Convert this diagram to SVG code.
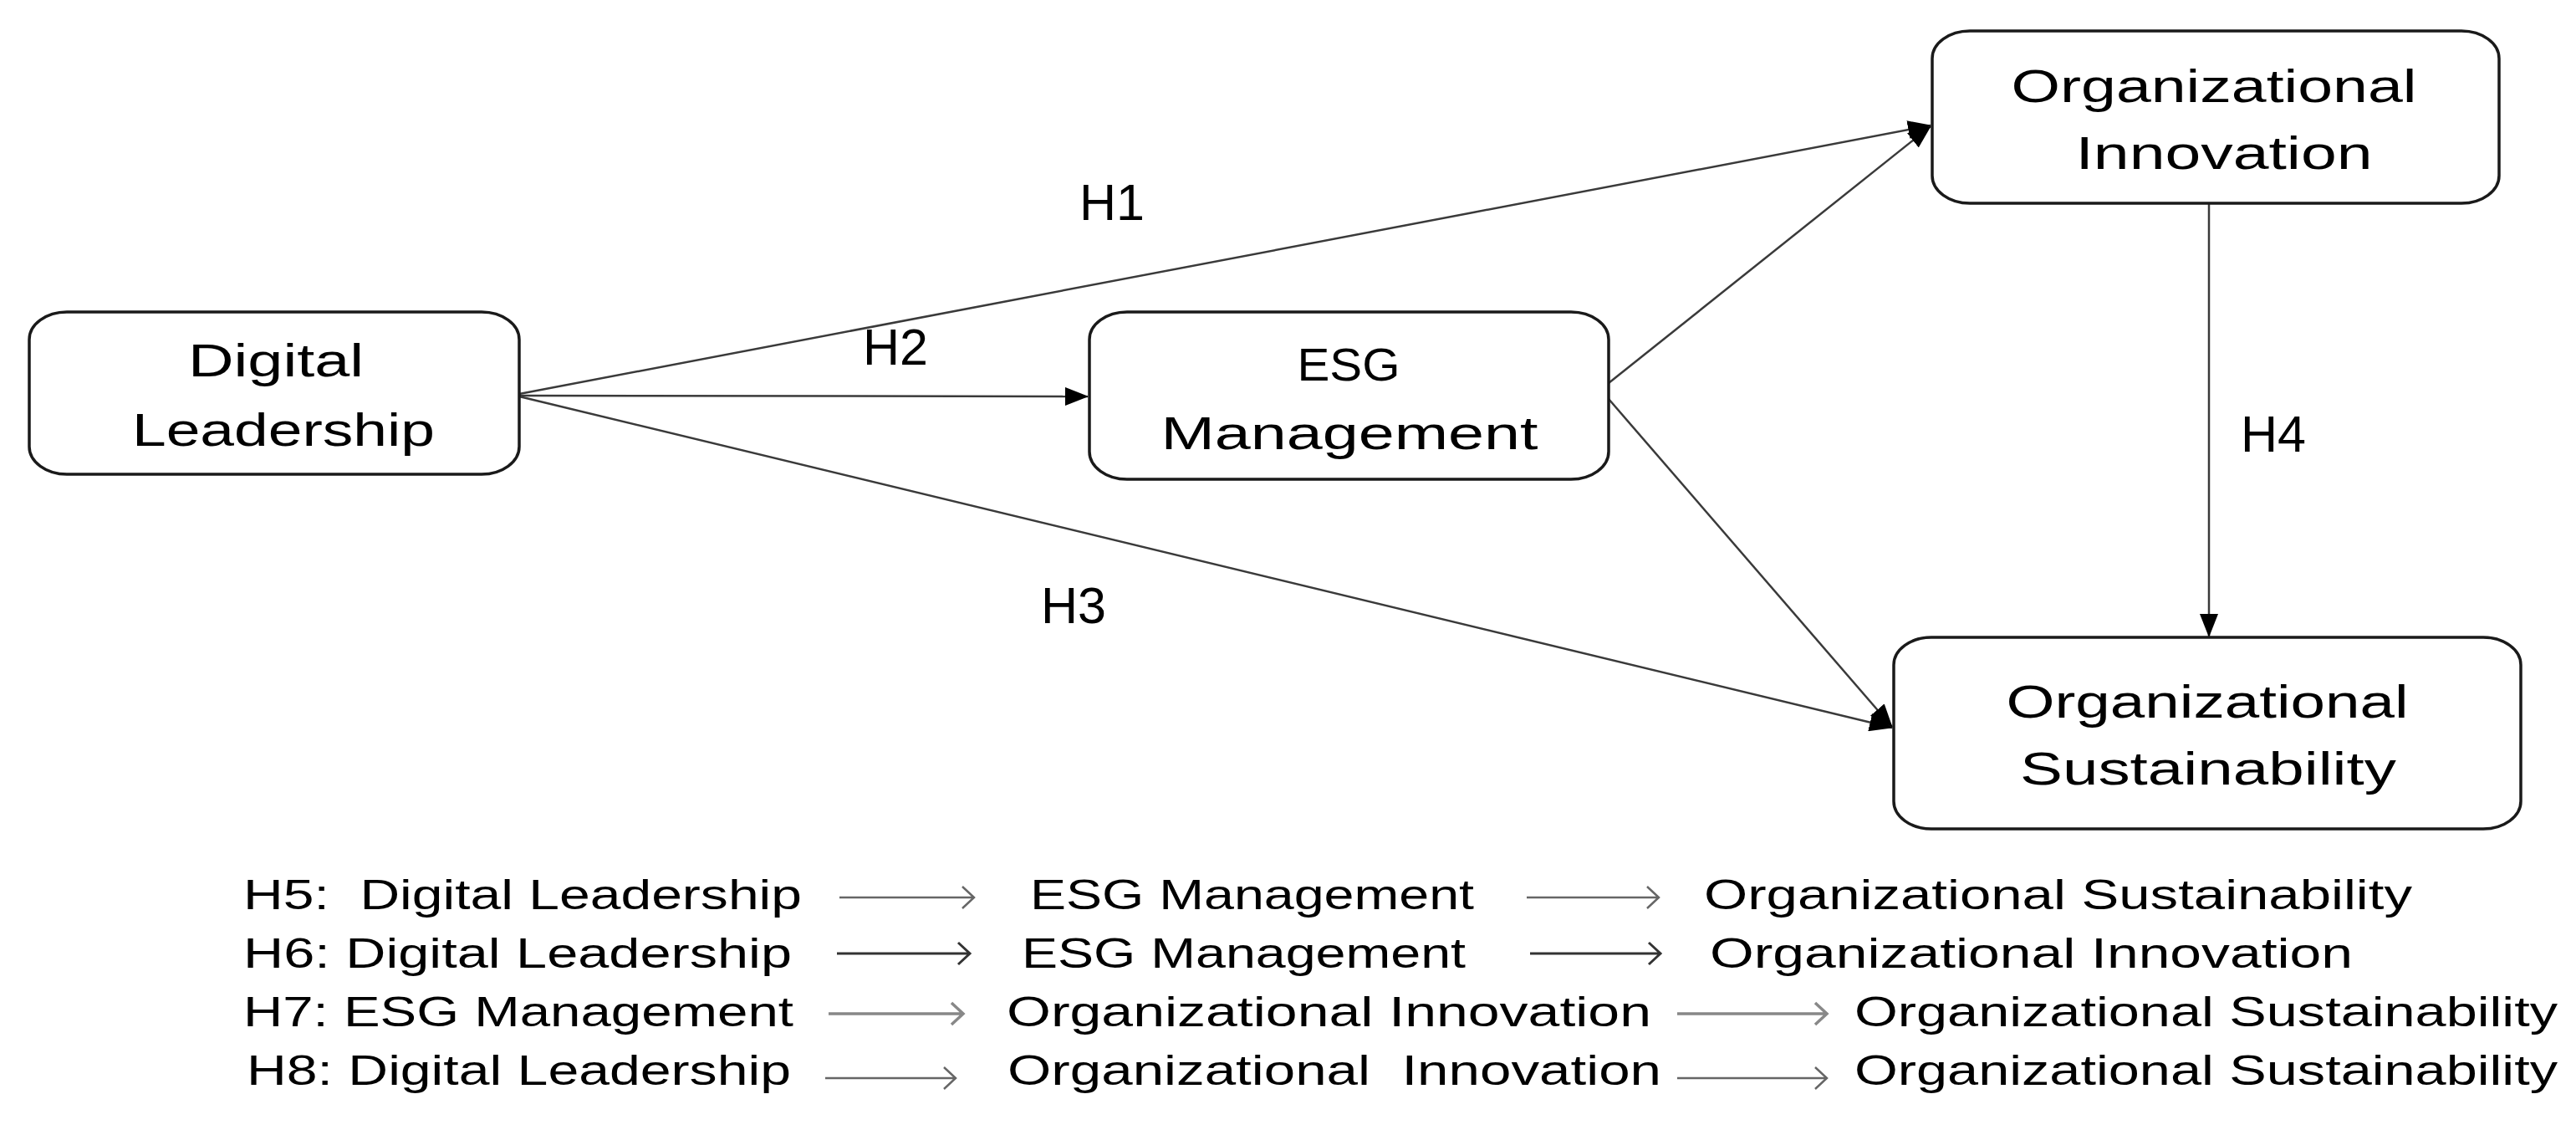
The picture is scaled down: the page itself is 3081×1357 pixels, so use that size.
<svg xmlns="http://www.w3.org/2000/svg" width="3081" height="1357" viewBox="0 0 3081 1357">
<defs>
<style>
.box{fill:#fff;stroke:#1a1a1a;stroke-width:3.5}
.lbl{font-family:"Liberation Sans",Arial,sans-serif;font-size:56px;fill:#000;text-anchor:middle}
.h{font-family:"Liberation Sans",Arial,sans-serif;font-size:61px;fill:#000}
.leg{font-family:"Liberation Sans",Arial,sans-serif;font-size:50px;fill:#000;white-space:pre}
.con{stroke:#3a3a3a;stroke-width:2.5;fill:none}
.la{stroke:#666;stroke-width:2.5;fill:none}
</style>
<marker id="ah" markerUnits="userSpaceOnUse" markerWidth="28" markerHeight="22" refX="27" refY="11" orient="auto">
<path d="M0,0 L28,11 L0,22 z" fill="#000"/>
</marker>
</defs>
<rect width="3081" height="1357" fill="#fff"/>

<g id="connectors">
<line class="con" x1="621" y1="471" x2="2309" y2="150" marker-end="url(#ah)"/>
<line class="con" x1="621" y1="473" x2="1301" y2="474" marker-end="url(#ah)"/>
<line class="con" x1="621" y1="474" x2="2263" y2="870" marker-end="url(#ah)"/>
<line class="con" x1="1924" y1="458" x2="2309" y2="151" marker-end="url(#ah)"/>
<line class="con" x1="1924" y1="477" x2="2263" y2="869" marker-end="url(#ah)"/>
<line class="con" x1="2642" y1="244" x2="2642" y2="761" marker-end="url(#ah)"/>
<text class="h" x="1291" y="263">H1</text>
<text class="h" x="1032" y="436">H2</text>
<text class="h" x="1245" y="745">H3</text>
<text class="h" x="2680" y="540">H4</text>
</g>

<g id="digital-leadership">
<rect class="box" x="35" y="373" width="586" height="194" rx="45" ry="33"/>
<text class="lbl" x="330" y="450" textLength="210" lengthAdjust="spacingAndGlyphs">Digital</text>
<text class="lbl" x="339" y="533" textLength="362" lengthAdjust="spacingAndGlyphs">Leadership</text>
</g>

<g id="esg-management">
<rect class="box" x="1303" y="373" width="621" height="200" rx="45" ry="33"/>
<text class="lbl" x="1613" y="455" textLength="123" lengthAdjust="spacingAndGlyphs">ESG</text>
<text class="lbl" x="1614" y="537" textLength="451" lengthAdjust="spacingAndGlyphs">Management</text>
</g>

<g id="organizational-innovation">
<rect class="box" x="2311" y="37" width="678" height="206" rx="45" ry="33"/>
<text class="lbl" x="2648" y="122" textLength="485" lengthAdjust="spacingAndGlyphs">Organizational</text>
<text class="lbl" x="2660" y="202" textLength="355" lengthAdjust="spacingAndGlyphs">Innovation</text>
</g>

<g id="organizational-sustainability">
<rect class="box" x="2265" y="762" width="750" height="229" rx="45" ry="33"/>
<text class="lbl" x="2640" y="858" textLength="481" lengthAdjust="spacingAndGlyphs">Organizational</text>
<text class="lbl" x="2641" y="938" textLength="450" lengthAdjust="spacingAndGlyphs">Sustainability</text>
</g>

<g id="legend">
<text class="leg" x="291" y="1087" textLength="668" lengthAdjust="spacingAndGlyphs">H5:  Digital Leadership</text>
<text class="leg" x="1232" y="1087" textLength="531" lengthAdjust="spacingAndGlyphs">ESG Management</text>
<text class="leg" x="2038" y="1087" textLength="847" lengthAdjust="spacingAndGlyphs">Organizational Sustainability</text>
<path class="la" d="M1004,1073 H1165 M1151,1060 L1165,1073 L1151,1086"/>
<path class="la" d="M1826,1073 H1984 M1970,1060 L1984,1073 L1970,1086"/>

<text class="leg" x="291" y="1157" textLength="656" lengthAdjust="spacingAndGlyphs">H6: Digital Leadership</text>
<text class="leg" x="1222" y="1157" textLength="531" lengthAdjust="spacingAndGlyphs">ESG Management</text>
<text class="leg" x="2045" y="1157" textLength="769" lengthAdjust="spacingAndGlyphs">Organizational Innovation</text>
<path class="la" d="M1001,1140 H1160 M1146,1127 L1160,1140 L1146,1153" style="stroke:#333;stroke-width:3"/>
<path class="la" d="M1830,1140 H1986 M1972,1127 L1986,1140 L1972,1153" style="stroke:#333;stroke-width:3"/>

<text class="leg" x="291" y="1227" textLength="658" lengthAdjust="spacingAndGlyphs">H7: ESG Management</text>
<text class="leg" x="1204" y="1227" textLength="771" lengthAdjust="spacingAndGlyphs">Organizational Innovation</text>
<text class="leg" x="2218" y="1227" textLength="841" lengthAdjust="spacingAndGlyphs">Organizational Sustainability</text>
<path class="la" d="M991,1212 H1152 M1138,1199 L1152,1212 L1138,1225" style="stroke:#888;stroke-width:3.5"/>
<path class="la" d="M2006,1212 H2185 M2171,1199 L2185,1212 L2171,1225" style="stroke:#888;stroke-width:3.5"/>

<text class="leg" x="295" y="1297" textLength="651" lengthAdjust="spacingAndGlyphs">H8: Digital Leadership</text>
<text class="leg" x="1205" y="1297" textLength="782" lengthAdjust="spacingAndGlyphs">Organizational  Innovation</text>
<text class="leg" x="2218" y="1297" textLength="841" lengthAdjust="spacingAndGlyphs">Organizational Sustainability</text>
<path class="la" d="M987,1289 H1143 M1129,1276 L1143,1289 L1129,1302"/>
<path class="la" d="M2006,1289 H2185 M2171,1276 L2185,1289 L2171,1302"/>
</g>
</svg>
